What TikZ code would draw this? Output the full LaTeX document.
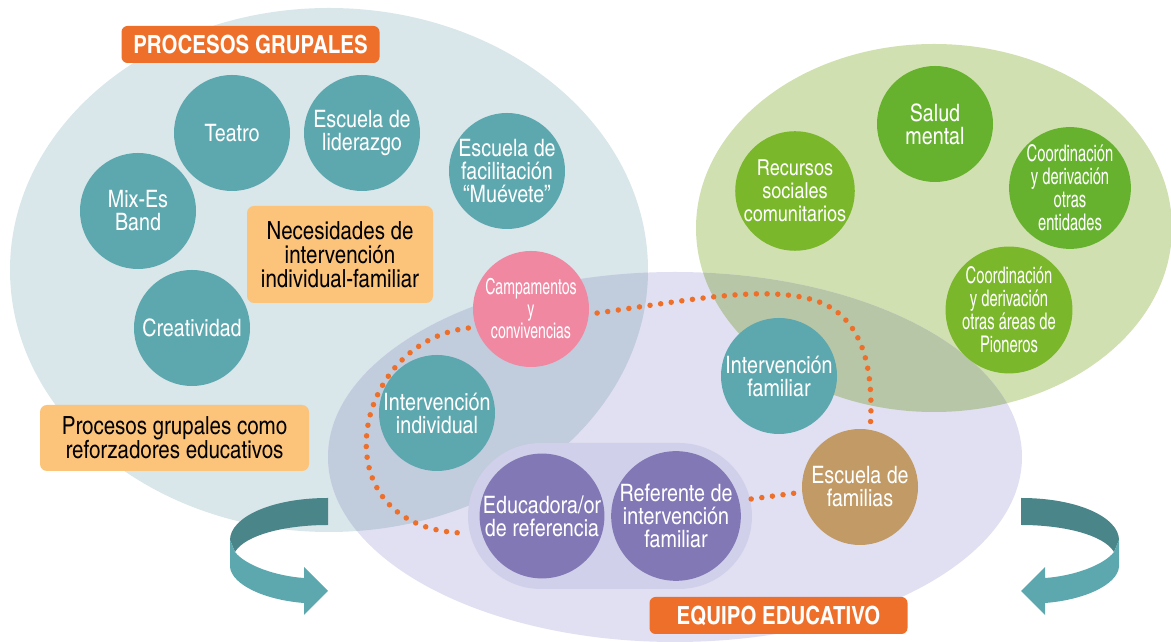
\documentclass[tikz,border=0pt]{standalone}
\usepackage{fontspec}
\setmainfont{texgyreheroscn}[Extension=.otf, UprightFont=*-regular, BoldFont=*-bold]
\newfontfamily\narrowfont{texgyreheroscn}[Extension=.otf, UprightFont=*-regular, FakeStretch=0.78]

\definecolor{blueback}{HTML}{D9E6EA}
\definecolor{greenback}{HTML}{D1E0B1}
\definecolor{lilacback}{HTML}{E1E0F2}
\definecolor{bluelilac}{HTML}{C1CCDD}
\definecolor{greenlilac}{HTML}{B7C6A6}
\definecolor{pillback}{HTML}{D0D0EA}
\definecolor{teal}{HTML}{5DA8AF}
\definecolor{darkteal}{HTML}{4A8589}
\definecolor{pinkish}{HTML}{F088A2}
\definecolor{violet}{HTML}{8278B6}
\definecolor{tan}{HTML}{C19A66}
\definecolor{grassA}{HTML}{66B22F}
\definecolor{grassB}{HTML}{7AB72B}
\definecolor{headorange}{HTML}{EE6F2A}
\definecolor{noteorange}{HTML}{FCC47B}

\newcommand\curlarrow{%
\fill[darkteal] (0,0) .. controls (-58,0) and (-98,-20) .. (-98,-42) -- (-93,-54)
  .. controls (-83,-37) and (-43,-27) .. (0,-27) -- cycle;
\fill[teal] (-98,-42) -- (-93,-54) .. controls (-83,-67) and (-53,-78) .. (-24,-80)
  -- (-24,-69) -- (0,-93) -- (-24,-117) -- (-24,-105)
  .. controls (-63,-102) and (-96,-87) .. (-98,-69) -- cycle;}

\begin{document}
\begin{tikzpicture}[x=1pt, y=1pt]
\tikzstyle{bubble} = [circle, minimum size=116pt, inner sep=0pt, text=white, align=center, font=\fontsize{24}{23}\selectfont]
\tikzstyle{narrow} = [font=\narrowfont\fontsize{23}{23}\selectfont]
\tikzstyle{note} = [rectangle, rounded corners=7pt, fill=noteorange, inner sep=0pt, align=center, font=\fontsize{25}{24}\selectfont]
\tikzstyle{heading} = [rectangle, rounded corners=6pt, fill=headorange, text=white, minimum width=258pt, minimum height=37pt, font=\fontsize{25}{25}\selectfont\bfseries]
\tikzstyle{dots} = [draw=headorange, line width=5.5pt, line cap=round, dash pattern=on 0pt off 10.7pt]
\useasboundingbox (0,0) rectangle (1171,642);

% background ovals
\fill[blueback] (329,372) ellipse [x radius=319, y radius=262];
\fill[greenback] (934,414) ellipse [x radius=238, y radius=184];
\fill[lilacback] (675,185) ellipse [x radius=347, y radius=185];
\begin{scope}
\clip (675,185) ellipse [x radius=347, y radius=185];
\fill[bluelilac] (329,372) ellipse [x radius=319, y radius=262];
\fill[greenlilac] (934,414) ellipse [x radius=238, y radius=184];
\end{scope}

% turning arrows
\begin{scope}[shift={(328,144)}] \curlarrow \end{scope}
\begin{scope}[shift={(1021,144)}, xscale=-1] \curlarrow \end{scope}

\node[heading] (grupal) at (250.5,597.5) {PROCESOS GRUPALES};
\node[heading] (equipo) at (778.5,26.5) {EQUIPO EDUCATIVO};
\node[note, minimum width=186pt, minimum height=97pt] (needs) at (340,387.5) {Necesidades de\\intervención\\individual-familiar};
\node[note, minimum width=269pt, minimum height=66pt] (refuerzo) at (174.5,204) {Procesos grupales como\\reforzadores educativos};

% group processes
\node[bubble, fill=teal] (teatro) at (232,509) {Teatro};
\node[bubble, fill=teal] (liderazgo) at (362,509) {Escuela de\\liderazgo};
\node[bubble, fill=teal] (muevete) at (507,471) {Escuela de\\facilitación\\“Muévete”};
\node[bubble, fill=teal] (band) at (138,431) {Mix-Es\\Band};
\node[bubble, fill=teal] (creatividad) at (192,314) {Creatividad};

% network
\node[bubble, fill=grassA] (salud) at (935,518) {Salud\\mental};
\node[bubble, fill=grassB, font=\fontsize{22}{23}\selectfont] (recursos) at (795,451) {Recursos\\sociales\\comunitarios};
\node[bubble, narrow, fill=grassA] (entidades) at (1070,454) {Coordinación\\y derivación\\otras\\entidades};
\node[bubble, narrow, fill=grassB] (pioneros) at (1009,332) {Coordinación\\y derivación\\otras áreas de\\Pioneros};

% educational team
\node[rectangle, rounded corners=73pt, fill=pillback, minimum width=284pt, minimum height=146pt] (pill) at (610,126) {};
\node[bubble, narrow, fill=pinkish, font=\narrowfont\fontsize{22}{22}\selectfont] (campa) at (531,333) {Campamentos\\y\\convivencias};
\node[bubble, fill=teal] (individual) at (437,229) {Intervención\\individual};
\node[bubble, fill=teal] (familiar) at (779,266) {Intervención\\familiar};
\node[bubble, fill=tan] (escuela) at (860,155) {Escuela de\\familias};
\node[bubble, fill=violet] (educa) at (542,126) {Educadora/or\\de referencia};
\node[bubble, fill=violet] (referente) at (676,126) {Referente de\\intervención\\familiar};

% dotted links
\draw[dots] ([shift={(-7,-2)}]campa.197) .. controls (350,300) and (318,115) .. ([shift={(-6,-17)}]pill.west);
\draw[dots] ([shift={(8,-1)}]campa.-3) .. controls (690,342) and (760,356) .. (810,343)
  .. controls (860,330) and (875,280) .. (escuela.80);
\draw[dots] ([shift={(-1,17)}]pill.east) -- ([shift={(-6,-6)}]escuela.west);
\end{tikzpicture}
\end{document}
